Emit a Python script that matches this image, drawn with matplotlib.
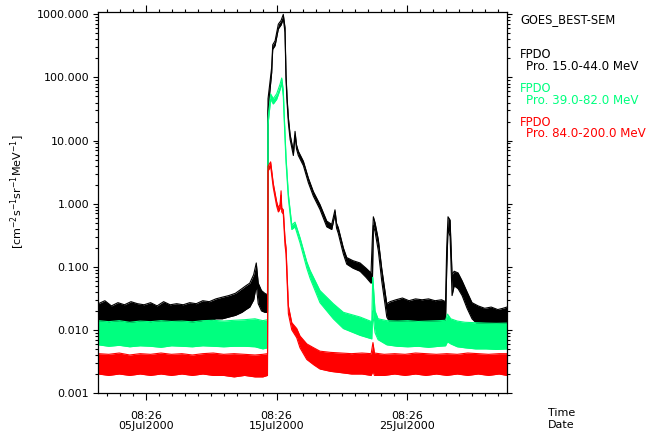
import numpy as np
import pandas as pd
import matplotlib
matplotlib.use("Agg")
import matplotlib.pyplot as plt
import matplotlib.dates as mdates
from matplotlib.ticker import LogLocator, NullFormatter, FixedLocator

# days since 2000-07-01 00:00 UT, lower / upper edge of the noisy band
t_black = [0.7, 1.2, 1.7, 2.2, 2.7, 3.2, 3.7, 4.2, 4.7, 5.2, 5.7, 6.2, 6.7, 7.2, 7.7, 8.2,
           8.7, 9.2, 9.7, 10.2, 10.7, 11.2, 11.7, 12.0, 12.3, 12.6, 12.8, 12.95, 13.2, 13.45, 13.66,
           13.70, 13.98, 14.06, 14.24, 14.49, 14.70, 14.87, 15.00, 15.08, 15.16, 15.26, 15.39,
           15.64, 15.77, 15.88, 16.02, 16.41, 16.79, 17.17, 17.68, 18.20, 18.58, 18.83, 18.95,
           19.08, 19.47, 19.73, 20.21, 20.75, 21.21, 21.59, 21.70, 21.77, 21.90, 22.15, 22.41,
           22.80, 23.05, 23.5, 24.0, 24.5, 25.0, 25.5, 26.0, 26.5, 27.0, 27.3, 27.39, 27.49,
           27.65, 27.80, 27.96, 28.26, 28.57, 28.95, 29.33, 29.8, 30.3, 30.8, 31.3, 31.7, 32.0]
lo_black = [0.012, 0.013, 0.012, 0.012, 0.013, 0.012, 0.012, 0.013, 0.012, 0.012, 0.013, 0.012,
            0.013, 0.012, 0.013, 0.013, 0.014, 0.014, 0.015, 0.015, 0.016, 0.017, 0.019, 0.021,
            0.023, 0.030, 0.050, 0.026, 0.020, 0.019, 0.019,
            30, 120, 280, 320, 590, 680, 850, 520, 90, 40, 19, 10.5,
            5.8, 12, 7.4, 5.8, 4.0, 2.15, 1.32, 0.81, 0.43, 0.39, 0.68, 0.41,
            0.34, 0.16, 0.11, 0.095, 0.085, 0.068, 0.055, 0.06, 0.45, 0.36, 0.18, 0.06,
            0.016, 0.013, 0.012, 0.012, 0.013, 0.012, 0.012, 0.013, 0.012, 0.013, 0.013, 0.09, 0.40,
            0.30, 0.035, 0.050, 0.045, 0.035, 0.022, 0.015, 0.012, 0.011, 0.012, 0.011, 0.012, 0.011]
hi_black = [0.026, 0.029, 0.024, 0.027, 0.025, 0.028, 0.026, 0.025, 0.027, 0.024, 0.028, 0.025,
            0.026, 0.025, 0.027, 0.026, 0.029, 0.028, 0.031, 0.033, 0.035, 0.038, 0.045, 0.050,
            0.055, 0.075, 0.115, 0.055, 0.042, 0.038, 0.036,
            46, 145, 330, 380, 700, 800, 1000, 620, 110, 48, 23, 12.5,
            6.8, 14, 8.6, 6.8, 4.7, 2.55, 1.56, 0.97, 0.53, 0.47, 0.80, 0.49,
            0.42, 0.20, 0.14, 0.125, 0.115, 0.095, 0.080, 0.30, 0.62, 0.50, 0.27, 0.095,
            0.026, 0.028, 0.030, 0.032, 0.029, 0.031, 0.030, 0.031, 0.029, 0.030, 0.028, 0.20, 0.62,
            0.55, 0.075, 0.085, 0.080, 0.060, 0.040, 0.027, 0.024, 0.022, 0.023, 0.021, 0.022, 0.023]

t_green = [0.7, 1.5, 2.3, 3.1, 3.9, 4.7, 5.5, 6.3, 7.1, 7.9, 8.7, 9.5, 10.3, 11.1, 11.9, 12.7,
           13.3, 13.66, 13.70, 13.90, 14.10, 14.36, 14.62, 14.75, 14.87, 14.95, 15.08, 15.26,
           15.52, 15.77, 16.15, 16.67, 16.92, 17.68, 18.70, 19.47, 20.75, 21.65, 21.72, 21.77,
           21.90, 22.13, 22.8, 23.6, 24.4, 25.2, 26.0, 26.8, 27.3, 27.45, 27.7, 28.2, 28.8,
           29.6, 30.4, 31.2, 32.0]
lo_green = [0.0058, 0.0055, 0.0057, 0.0054, 0.0056, 0.0055, 0.0053, 0.0056, 0.0055, 0.0054,
            0.0056, 0.0055, 0.0054, 0.0055, 0.0055, 0.0054, 0.0050, 0.0052,
            18, 45, 38, 45, 64, 82, 50, 19, 4.5, 1.2,
            0.39, 0.43, 0.24, 0.095, 0.066, 0.027, 0.015, 0.0105, 0.0082, 0.0072, 0.020, 0.015,
            0.009, 0.0070, 0.0058, 0.0055, 0.0054, 0.0055, 0.0053, 0.0055, 0.0056, 0.0065, 0.0060,
            0.0054, 0.0052, 0.0050, 0.0050, 0.0049, 0.0050]
hi_green = [0.0140, 0.0135, 0.0140, 0.0132, 0.0138, 0.0135, 0.0140, 0.0136, 0.0138, 0.0134,
            0.0140, 0.0142, 0.0138, 0.0142, 0.0145, 0.0150, 0.0140, 0.0145,
            22, 55, 46, 55, 78, 98, 62, 23, 5.4, 1.4,
            0.46, 0.51, 0.29, 0.12, 0.088, 0.042, 0.026, 0.019, 0.016, 0.0135, 0.068, 0.050,
            0.020, 0.015, 0.0140, 0.0138, 0.0140, 0.0136, 0.0138, 0.0140, 0.0142, 0.0178, 0.0150,
            0.0138, 0.0132, 0.0130, 0.0128, 0.0127, 0.0128]

t_red = [0.7, 1.5, 2.3, 3.1, 3.9, 4.7, 5.5, 6.3, 7.1, 7.9, 8.7, 9.5, 10.3, 11.1, 11.9, 12.7,
         13.3, 13.66, 13.70, 13.90, 14.10, 14.36, 14.49, 14.62, 14.70, 14.75, 14.87, 15.00,
         15.08, 15.26, 15.52, 15.90, 16.15, 16.67, 17.2, 17.68, 18.5, 19.3, 20.1, 20.9, 21.6,
         21.74, 21.85, 22.6, 23.4, 24.2, 25.0, 25.8, 26.6, 27.4, 28.2, 29.0, 29.8, 30.6, 31.4, 32.0]
lo_red = [0.0020, 0.0019, 0.0020, 0.0019, 0.0020, 0.0019, 0.0020, 0.0019, 0.0020, 0.0019,
          0.0020, 0.0019, 0.0019, 0.0018, 0.0019, 0.0018, 0.0018, 0.0019,
          3.3, 3.9, 1.8, 0.92, 0.74, 0.83, 1.35, 0.74, 0.68, 0.22,
          0.16, 0.018, 0.0100, 0.0075, 0.0052, 0.0034, 0.0028, 0.0024, 0.0022, 0.0021, 0.0020,
          0.0020, 0.0019, 0.0022, 0.0019, 0.0019, 0.0020, 0.0019, 0.0020, 0.0019, 0.0020, 0.0019,
          0.0020, 0.0019, 0.0020, 0.0019, 0.0020, 0.0019]
hi_red = [0.0042, 0.0041, 0.0043, 0.0040, 0.0042, 0.0041, 0.0043, 0.0041, 0.0042, 0.0040,
          0.0042, 0.0043, 0.0041, 0.0042, 0.0041, 0.0040, 0.0041, 0.0042,
          3.9, 4.6, 2.1, 1.08, 0.86, 0.97, 1.6, 0.86, 0.80, 0.28,
          0.20, 0.024, 0.0130, 0.0105, 0.0080, 0.0060, 0.0052, 0.0046, 0.0044, 0.0043, 0.0042,
          0.0043, 0.0042, 0.0063, 0.0043, 0.0041, 0.0042, 0.0041, 0.0043, 0.0042, 0.0041, 0.0042,
          0.0041, 0.0043, 0.0042, 0.0041, 0.0042, 0.0042]

series_names = ["Pro. 15.0-44.0 MeV", "Pro. 39.0-82.0 MeV", "Pro. 84.0-200.0 MeV"]
colors = ["black", "#00ff7f", "#ff0000"]

major_times = ["2000-07-05 08:26", "2000-07-15 08:26", "2000-07-25 08:26"]
major_labels = ["08:26\n05Jul2000", "08:26\n15Jul2000", "08:26\n25Jul2000"]
y_ticks = [0.001, 0.01, 0.1, 1, 10, 100, 1000]

start = pd.Timestamp("2000-07-01")


def to_num(days):
    return mdates.date2num(start + pd.to_timedelta(np.asarray(days), unit="D"))


fig = plt.figure(figsize=(6.54, 4.37), dpi=100)
ax = fig.add_axes([98 / 654, 1 - 393 / 437, 409 / 654, 381 / 437])

# black first, then green, then red on top (each band + its edges at its own level)
data = [(t_black, lo_black, hi_black), (t_green, lo_green, hi_green), (t_red, lo_red, hi_red)]
for i, ((t, lo, hi), c) in enumerate(zip(data, colors)):
    x = to_num(t)
    z = 2 + i
    ax.fill_between(x, lo, hi, color=c, lw=0, zorder=z)
    ax.plot(x, lo, color=c, lw=0.8, zorder=z)
    ax.plot(x, hi, color=c, lw=0.8, zorder=z)

ax.set_yscale("log")
ax.set_ylim(0.001, 1090)
ax.set_xlim(to_num([0.673])[0], to_num([32.01])[0])

ax.set_yticks(y_ticks, ["%.3f" % v for v in y_ticks])
ax.yaxis.set_minor_locator(LogLocator(base=10, subs=np.arange(2, 10)))
ax.yaxis.set_minor_formatter(NullFormatter())

majors = mdates.date2num(pd.to_datetime(major_times))
ax.set_xticks(majors, major_labels)
minor_days = pd.date_range("2000-07-02 08:26", "2000-08-01 08:26", freq="D")
ax.xaxis.set_minor_locator(FixedLocator(mdates.date2num(minor_days)))

ax.tick_params(axis="both", which="both", direction="out", top=True, right=True,
               width=0.8, colors="black", labelsize=8)
ax.tick_params(axis="x", which="major", length=5, pad=8)
ax.tick_params(axis="x", which="minor", length=2.5)
ax.tick_params(axis="y", which="major", length=3.5, pad=3)
ax.tick_params(axis="y", which="minor", length=2)
for lbl in ax.get_xticklabels():
    lbl.set_linespacing(1.0)
for s in ax.spines.values():
    s.set_linewidth(0.9)
    s.set_zorder(6)

fig.text(18 / 654, 1 - 192 / 437, r"[cm$^{-2}$s$^{-1}$sr$^{-1}$MeV$^{-1}$]",
         rotation=90, ha="center", va="center", fontsize=8)

fig.text(520 / 654, 1 - 20 / 437, "GOES_BEST-SEM", fontsize=8.3, va="center")
for i, (name, c) in enumerate(zip(series_names, colors)):
    y0 = 55 + i * 33.5
    fig.text(520 / 654, 1 - y0 / 437, "FPDO", fontsize=8.3, color=c, va="center")
    fig.text(526 / 654, 1 - (y0 + 11.5) / 437, name, fontsize=8.6, color=c, va="center")

fig.text(548 / 654, 1 - 413 / 437, "Time", fontsize=8, va="center")
fig.text(548 / 654, 1 - 425 / 437, "Date", fontsize=8, va="center")

fig.savefig("out.png", dpi=100)
